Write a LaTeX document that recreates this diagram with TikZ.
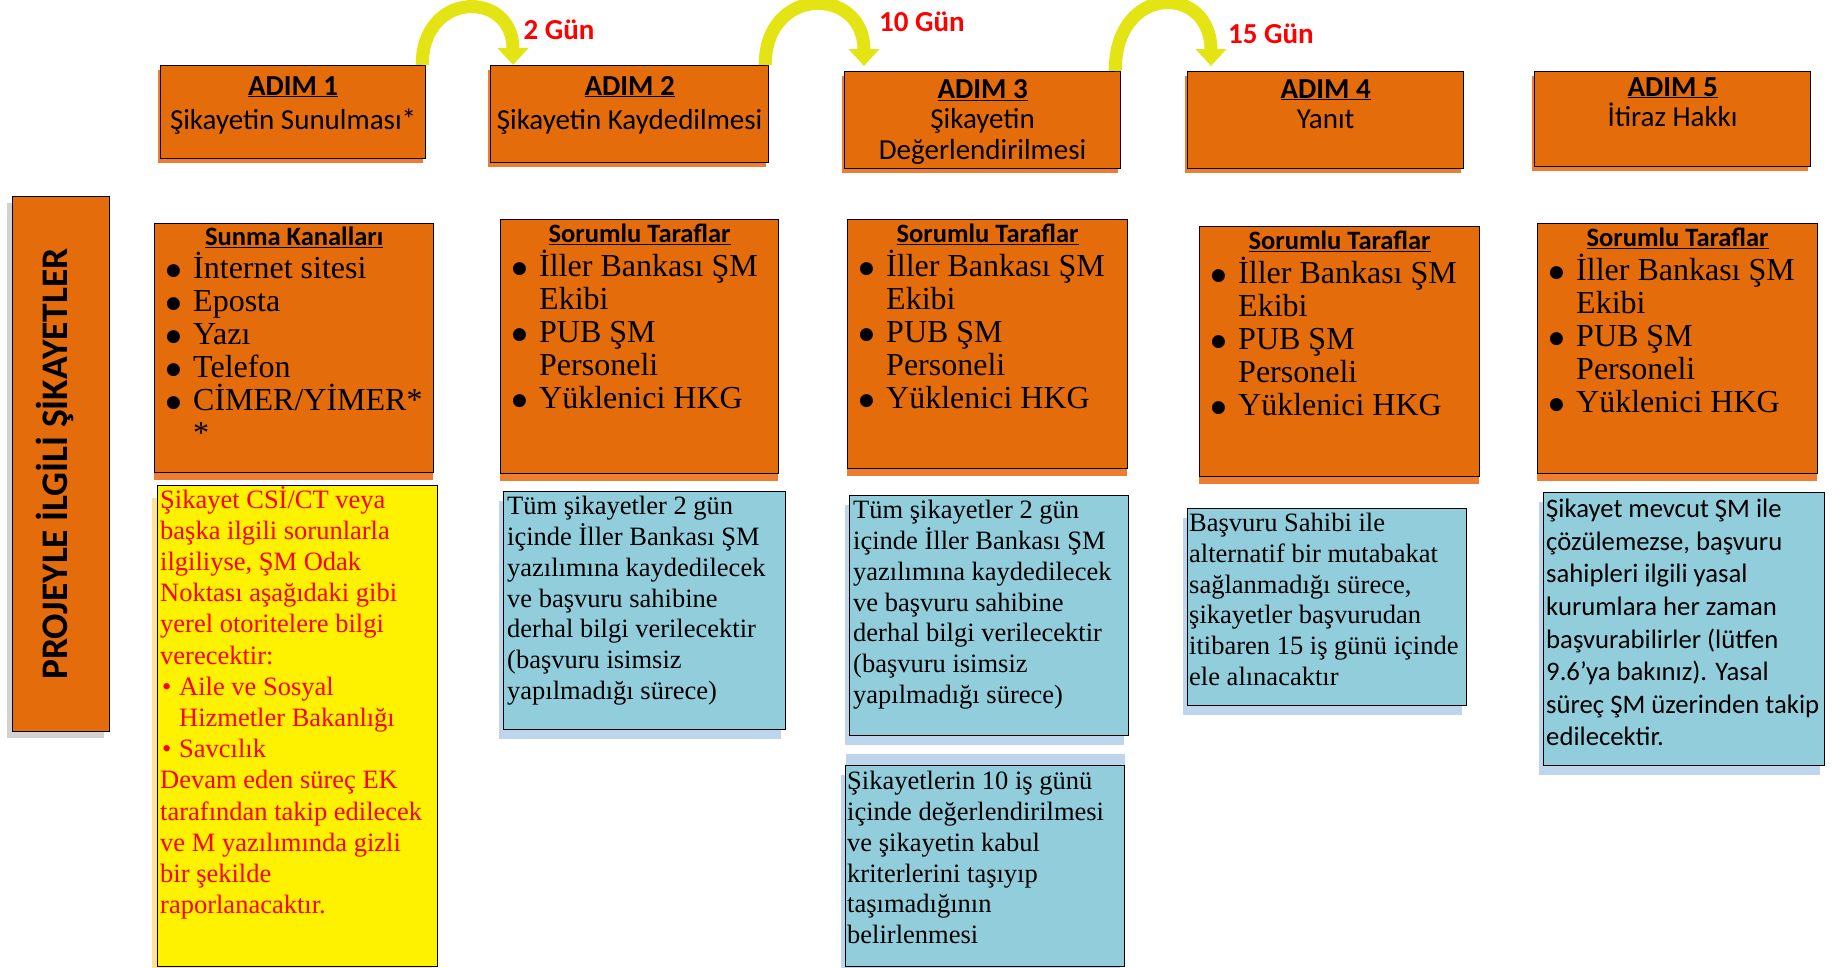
\documentclass[tikz,border=0pt]{standalone}
\usepackage{fontspec}
\setmainfont{Liberation Serif}
\newfontfamily\calibri{Carlito}
\newfontfamily\dejavu{DejaVu Sans}
\usetikzlibrary{arrows.meta,positioning,shadows}
\definecolor{boxorange}{RGB}{228,108,10}
\definecolor{lightorange}{RGB}{237,125,49}
\definecolor{notefill}{RGB}{146,205,220}
\definecolor{noteshade}{RGB}{189,214,238}
\definecolor{warnshade}{RGB}{255,226,150}
\definecolor{arrowyellow}{RGB}{228,228,20}
\tikzset{
  box/.style={draw=black, line width=1.2pt, inner sep=0pt, anchor=north west},
  stepbox/.style={box, fill=boxorange, drop shadow={shadow xshift=-3pt, shadow yshift=-4pt, fill=lightorange, opacity=1}},
  listbox/.style={box, fill=boxorange, drop shadow={shadow xshift=-1pt, shadow yshift=-7pt, fill=lightorange, opacity=1}},
  notebox/.style={box, fill=notefill, line width=1pt, drop shadow={shadow xshift=-5pt, shadow yshift=-9pt, fill=noteshade, opacity=1}},
  warnbox/.style={box, fill=yellow, drop shadow={shadow xshift=-6pt, shadow yshift=-12pt, fill=warnshade, opacity=1}},
  sidebox/.style={box, fill=boxorange, drop shadow={shadow xshift=-6pt, shadow yshift=-6pt, fill=gray!35, opacity=1}},
  steptext/.style={inner sep=0pt, align=center, font={\calibri\fontsize{29}{34.5}\selectfont\lineskiplimit=-40pt}},
  steptight/.style={steptext, font={\calibri\fontsize{29}{30.5}\selectfont\lineskiplimit=-40pt}},
  listhead/.style={inner sep=0pt, font={\calibri\bfseries\fontsize{26.5}{30}\selectfont}},
  listtext/.style={inner sep=0pt, align=left, font={\fontsize{32}{33}\selectfont\lineskiplimit=-40pt}},
  notetext/.style={inner sep=0pt, align=left, font={\fontsize{26.5}{30.8}\selectfont\lineskiplimit=-40pt}},
  notesans/.style={inner sep=0pt, align=left, font={\calibri\fontsize{26.7}{32.6}\selectfont\lineskiplimit=-40pt}},
  sidetext/.style={inner sep=0pt, font={\calibri\bfseries\fontsize{37.5}{40}\selectfont}},
  dayarrow/.style={draw=arrowyellow, line width=13pt, -{Triangle[width=30pt,length=17pt]}},
  daylabel/.style={inner sep=0pt, text=red, font={\calibri\bfseries\fontsize{29}{30}\selectfont}}
}
\newcommand{\blt}{\makebox[27pt][l]{\raisebox{3.5pt}{\dejavu\fontsize{17}{17}\selectfont ●}}}
\newcommand{\hng}{\hspace*{27pt}}

\begin{document}
\begin{tikzpicture}[x=1pt, y=-1pt]
  \useasboundingbox (0,0) rectangle (1843,967);

  % side title
  \node[sidebox, minimum width=97pt, minimum height=535pt] (side) at (12,196) {};
  \node[sidetext, rotate=90] (sidetitle) at ([xshift=-6pt]side.center) {PROJEYLE İLGİLİ ŞİKAYETLER};

  % steps
  \node[stepbox, minimum width=265pt, minimum height=93pt] (s1) at (160,65) {};
  \node[stepbox, minimum width=278pt, minimum height=97pt] (s2) at (490,65) {};
  \node[stepbox, minimum width=276pt, minimum height=97pt] (s3) at (844,71) {};
  \node[stepbox, minimum width=276pt, minimum height=97pt] (s4) at (1187,71) {};
  \node[stepbox, minimum width=276pt, minimum height=95pt] (s5) at (1534,71) {};
  \node[steptext, below=11pt of s1.north] (s1txt) {\textbf{\underline{ADIM 1}}\\Şikayetin Sunulması*};
  \node[steptext, below=11pt of s2.north] (s2txt) {\textbf{\underline{ADIM 2}}\\Şikayetin Kaydedilmesi};
  \node[steptight, below=8pt of s3.north] (s3txt) {\textbf{\underline{ADIM 3}}\\Şikayetin\\Değerlendirilmesi};
  \node[steptight, below=8pt of s4.north] (s4txt) {\textbf{\underline{ADIM 4}}\\Yanıt};
  \node[steptight, below=6pt of s5.north] (s5txt) {\textbf{\underline{ADIM 5}}\\İtiraz Hakkı};

  % day arrows
  \draw[dayarrow] ([xshift=-4pt]s1.north east) .. controls +(0,-75) and +(0,-75) .. ([xshift=23pt]s2.north west);
  \draw[dayarrow] ([xshift=-4pt]s2.north east) .. controls +(0,-80) and +(0,-80) .. ([xshift=20pt,yshift=5pt]s3.north west);
  \draw[dayarrow] ([xshift=-6pt]s3.north east) .. controls +(0,-88) and +(0,-82) .. ([xshift=24pt,yshift=5pt]s4.north west);
  \node[daylabel] (d2) at (559,30) {2 Gün};
  \node[daylabel] (d10) at (922,22) {10 Gün};
  \node[daylabel] (d15) at (1271,34) {15 Gün};

  % channels and parties
  \node[listbox, minimum width=279pt, minimum height=249pt] (lA) at (154,223) {};
  \node[listbox, minimum width=278pt, minimum height=254pt] (lB) at (500,219) {};
  \node[listbox, minimum width=280pt, minimum height=249pt] (lC) at (847,219) {};
  \node[listbox, minimum width=280pt, minimum height=250pt] (lD) at (1199,226) {};
  \node[listbox, minimum width=280pt, minimum height=250pt] (lE) at (1537,223) {};
  \node[listhead, below=4pt of lA.north] (lAhead) {\underline{Sunma Kanalları}};
  \node[listtext, below right=29pt and 12pt of lA.north west] (lAtxt) {\blt İnternet sitesi\\\blt Eposta\\\blt Yazı\\\blt Telefon\\\blt CİMER/YİMER*\\\hng *};
  \foreach \col in {lB,lC,lD,lE} {
    \node[listhead, below=5pt of \col.north] (\col head) {\underline{Sorumlu Taraflar}};
    \node[listtext, below right=31pt and 12pt of \col.north west] (\col txt) {\blt İller Bankası ŞM\\\hng Ekibi\\\blt PUB ŞM\\\hng Personeli\\\blt Yüklenici HKG};
  }

  % notes
  \node[warnbox, minimum width=280pt, minimum height=481pt] (warn) at (157,485) {};
  \node[notetext, text=red, font={\fontsize{26.5}{31.2}\selectfont\lineskiplimit=-40pt}, below right=1pt and 3pt of warn.north west] (warntxt) {Şikayet CSİ/CT veya\\başka ilgili sorunlarla\\ilgiliyse, ŞM Odak\\Noktası aşağıdaki gibi\\yerel otoritelere bilgi\\verecektir:\\\hspace*{2pt}\makebox[17pt][l]{\textbullet}Aile ve Sosyal\\\hspace*{19pt}Hizmetler Bakanlığı\\\hspace*{2pt}\makebox[17pt][l]{\textbullet}Savcılık\\Devam eden süreç EK\\tarafından takip edilecek\\ve M yazılımında gizli\\bir şekilde\\raporlanacaktır.};

  \node[notebox, minimum width=282pt, minimum height=238pt] (rB) at (503,491) {};
  \node[notebox, minimum width=279pt, minimum height=240pt] (rC) at (849,495) {};
  \foreach \col in {rB,rC} {
    \node[notetext, below right=5pt and 4pt of \col.north west] (\col txt) {Tüm şikayetler 2 gün\\içinde İller Bankası ŞM\\yazılımına kaydedilecek\\ve başvuru sahibine\\derhal bilgi verilecektir\\(başvuru isimsiz\\yapılmadığı sürece)};
  }
  \node[notebox, minimum width=279pt, minimum height=201pt, drop shadow={shadow xshift=0pt, shadow yshift=12pt, fill=noteshade, opacity=1}] (eC) at (845,765) {};
  \node[notetext, below right=6pt and 2pt of eC.north west] (eCtxt) {Şikayetlerin 10 iş günü\\içinde değerlendirilmesi\\ve şikayetin kabul\\kriterlerini taşıyıp\\taşımadığının\\belirlenmesi};
  \node[notebox, minimum width=279pt, minimum height=197pt] (rD) at (1187,508) {};
  \node[notetext, below right=5pt and 2pt of rD.north west] (rDtxt) {Başvuru Sahibi ile\\alternatif bir mutabakat\\sağlanmadığı sürece,\\şikayetler başvurudan\\itibaren 15 iş günü içinde\\ele alınacaktır};
  \node[notebox, minimum width=281pt, minimum height=273pt] (rE) at (1543,492) {};
  \node[notesans, below right=7pt and 3pt of rE.north west] (rEtxt) {Şikayet mevcut ŞM ile\\çözülemezse, başvuru\\sahipleri ilgili yasal\\kurumlara her zaman\\başvurabilirler (lütfen\\9.6’ya bakınız). Yasal\\süreç ŞM üzerinden takip\\edilecektir.};
\end{tikzpicture}
\end{document}
